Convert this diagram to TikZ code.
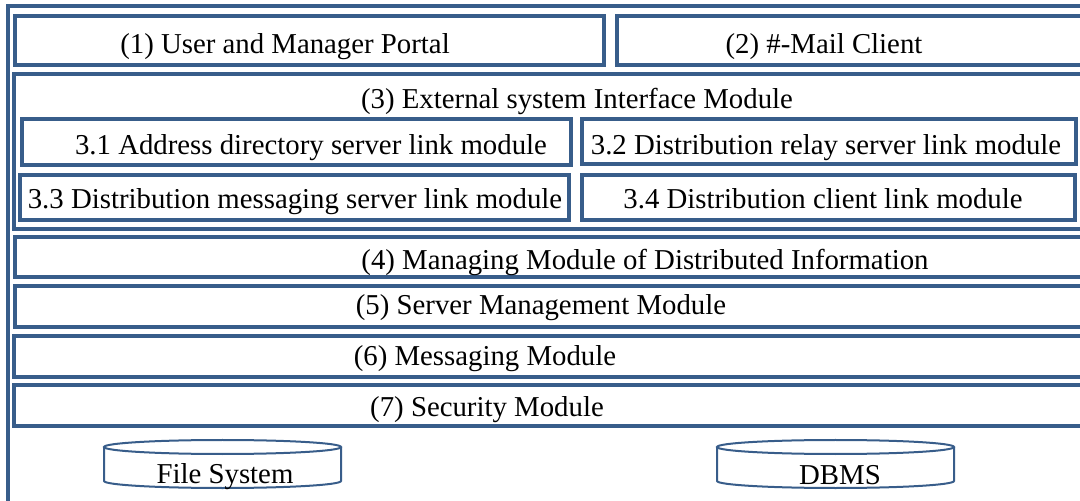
\documentclass[tikz,border=0pt]{standalone}
\usepackage{fontspec}
\setmainfont{Liberation Serif}
\definecolor{boxblue}{HTML}{385D8A}
\begin{document}
\begin{tikzpicture}[x=0.5pt,y=-0.5pt,
  frame/.style={draw=boxblue,line width=1.6pt},
  lbl/.style={anchor=base,inner sep=0pt,font=\fontsize{14.4}{16}\selectfont},
  drum/.style={draw=boxblue,line width=1pt}]
\useasboundingbox (0,0) rectangle (1080,501);
\clip (0,0) rectangle (1080,501);

% outer frame (runs past the right and lower edges)
\draw[frame] (8,6) rectangle (1100,540);

% portals
\draw[frame] (15,16) rectangle (604,65);
\draw[frame] (617,16) rectangle (1100,65);
\node[lbl] (portal) at (285,54) {(1) User and Manager Portal};
\node[lbl] (mail) at (824,54) {(2) \#-Mail Client};

% external system interface module
\draw[frame] (14,74) rectangle (1100,229);
\node[lbl] (ext) at (577,109) {(3) External system Interface Module};
\draw[frame] (22,119) rectangle (571,165);
\draw[frame] (582,119) rectangle (1076,164);
\draw[frame] (20,175) rectangle (569,220);
\draw[frame] (582,175) rectangle (1075,220);
\node[lbl] (m31) at (311,155) {3.1 Address directory server link module};
\node[lbl] (m32) at (826,155) {3.2 Distribution relay server link module};
\node[lbl] (m33) at (295,209) {3.3 Distribution messaging server link module};
\node[lbl] (m34) at (823,209) {3.4 Distribution client link module};

% stacked modules
\draw[frame] (15,237) rectangle (1100,277);
\draw[frame] (15,286) rectangle (1100,327);
\draw[frame] (14,336) rectangle (1100,377);
\draw[frame] (14,385) rectangle (1100,426);
\node[lbl] (m4) at (645,270) {(4) Managing Module of Distributed Information};
\node[lbl] (m5) at (541,315) {(5) Server Management Module};
\node[lbl] (m6) at (485,366) {(6) Messaging Module};
\node[lbl] (m7) at (487,417) {(7) Security Module};

% storage drums
\draw[drum] (222.5,447) ellipse [x radius=59.25pt, y radius=3.5pt];
\draw[drum] (104,447) -- (104,481) arc [start angle=180, end angle=360, x radius=59.25pt, y radius=3.5pt] -- (341,447);
\draw[drum] (835.5,447) ellipse [x radius=59.25pt, y radius=3.5pt];
\draw[drum] (717,447) -- (717,481) arc [start angle=180, end angle=360, x radius=59.25pt, y radius=3.5pt] -- (954,447);
\node[lbl] (fs) at (225,483) {File System};
\node[lbl] (db) at (840,484) {DBMS};
\end{tikzpicture}
\end{document}
